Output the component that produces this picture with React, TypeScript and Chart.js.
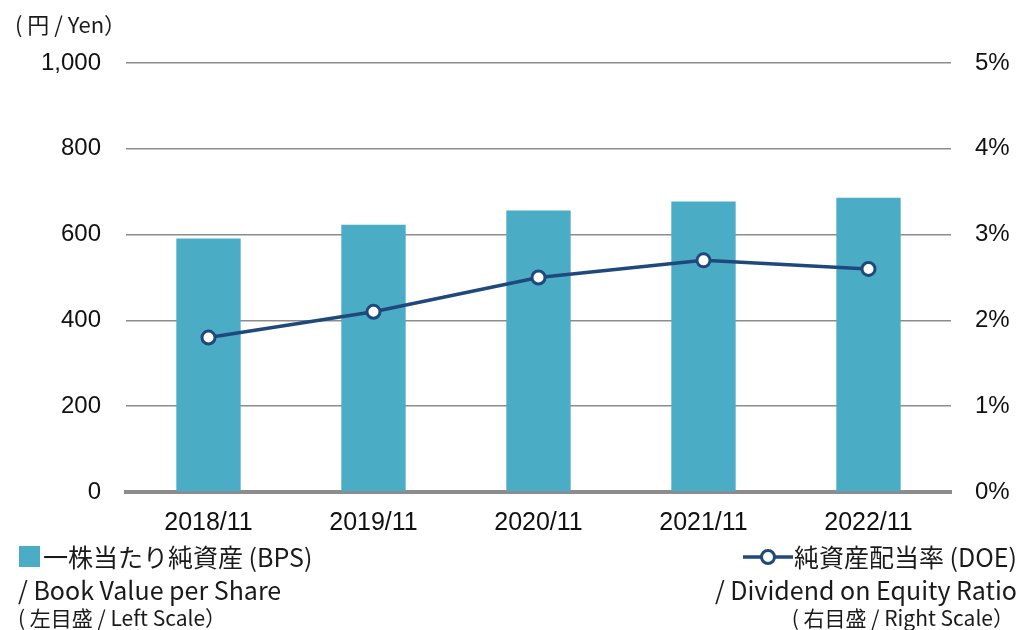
import React, { useEffect, useRef } from "react";
import { Chart, registerables } from "chart.js";

Chart.register(...registerables);

const categories = ["2018/11", "2019/11", "2020/11", "2021/11", "2022/11"];
const bpsValues = [591, 623, 656, 677, 686];
const doeValues = [1.8, 2.1, 2.5, 2.7, 2.6];
const leftAxis = { min: 0, max: 1000, step: 200 };
const rightAxis = { min: 0, max: 5, step: 1 };

const BAR_COLOR = "#4BACC6";
const LINE_COLOR = "#1F497D";
const GRID_COLOR = "#8C8C8C";
const TICK_FONT = "'Liberation Sans', Arial, sans-serif";
const LEGEND_FONT = "'Noto Sans CJK JP', 'Noto Sans', sans-serif";

export default function App() {
  const canvasRef = useRef<HTMLCanvasElement | null>(null);

  useEffect(() => {
    if (!canvasRef.current) return;
    const chart = new Chart(canvasRef.current, {
      type: "bar",
      data: {
        labels: categories,
        datasets: [
          {
            type: "line",
            label: "DOE",
            data: doeValues,
            yAxisID: "yRight",
            borderColor: LINE_COLOR,
            borderWidth: 3.5,
            pointRadius: 6.5,
            pointBorderWidth: 3,
            pointBackgroundColor: "#ffffff",
            pointBorderColor: LINE_COLOR,
            tension: 0,
            order: 0,
          } as any,
          {
            type: "bar",
            label: "BPS",
            data: bpsValues,
            yAxisID: "yLeft",
            backgroundColor: BAR_COLOR,
            borderWidth: 0,
            barPercentage: 0.39,
            categoryPercentage: 1,
            order: 1,
          },
        ],
      },
      options: {
        responsive: false,
        animation: false,
        layout: { padding: { top: 63, bottom: 93, left: 0, right: 0 } },
        plugins: { legend: { display: false }, tooltip: { enabled: false } },
        scales: {
          x: {
            grid: { display: false, drawTicks: false },
            border: { display: true, color: GRID_COLOR, width: 4 },
            ticks: {
              color: "#111",
              font: { family: TICK_FONT, size: 25 },
              padding: 16,
              maxRotation: 0,
            },
            afterFit: (s: any) => {
              s.height = 45;
            },
          },
          yLeft: {
            position: "left",
            min: leftAxis.min,
            max: leftAxis.max,
            grid: {
              color: GRID_COLOR,
              lineWidth: 1.6,
              drawTicks: false,
            },
            border: { display: false },
            ticks: {
              stepSize: leftAxis.step,
              color: "#111",
              font: { family: TICK_FONT, size: 24 },
              padding: 25,
              callback: (v: any) => Number(v).toLocaleString("en-US"),
            },
            afterFit: (s: any) => {
              s.width = 126;
            },
          },
          yRight: {
            position: "right",
            min: rightAxis.min,
            max: rightAxis.max,
            grid: { display: false, drawTicks: false },
            border: { display: false },
            ticks: {
              stepSize: rightAxis.step,
              color: "#111",
              font: { family: TICK_FONT, size: 24 },
              padding: 24,
              callback: (v: any) => `${v}%`,
            },
            afterFit: (s: any) => {
              s.width = 69;
            },
          },
        },
      },
    });
    return () => chart.destroy();
  }, []);

  const txt: React.CSSProperties = {
    position: "absolute",
    fontFamily: LEGEND_FONT,
    color: "#1a1a1a",
    whiteSpace: "nowrap",
    lineHeight: 1,
  };

  return (
    <div
      style={{
        position: "fixed",
        left: 0,
        top: 0,
        width: 1020,
        height: 630,
        background: "#ffffff",
        overflow: "hidden",
      }}
    >
      <canvas ref={canvasRef} width={1020} height={630} style={{ position: "absolute", left: 0, top: 0 }} />
      <div style={{ ...txt, left: 15, top: 12, fontSize: 22 }}>( 円 / Yen）</div>

      <div style={{ ...txt, left: 19, top: 544, fontSize: 25, display: "flex", alignItems: "center" }}>
        <span style={{ display: "inline-block", width: 21, height: 21, background: BAR_COLOR, marginRight: 3 }} />
        <span>一株当たり純資産 (BPS)</span>
      </div>
      <div style={{ ...txt, left: 18, top: 577, fontSize: 25 }}>/ Book Value per Share</div>
      <div style={{ ...txt, left: 18, top: 607, fontSize: 21 }}>( 左目盛 / Left Scale）</div>

      <div style={{ ...txt, right: 3, top: 544, fontSize: 25, display: "flex", alignItems: "center" }}>
        <svg width={50} height={22} style={{ marginRight: 1 }}>
          <line x1={0} y1={11} x2={50} y2={11} stroke={LINE_COLOR} strokeWidth={3.5} />
          <circle cx={25} cy={11} r={6.5} fill="#fff" stroke={LINE_COLOR} strokeWidth={3} />
        </svg>
        <span>純資産配当率 (DOE)</span>
      </div>
      <div style={{ ...txt, right: 3, top: 577, fontSize: 25 }}>/ Dividend on Equity Ratio</div>
      <div style={{ ...txt, right: 6, top: 607, fontSize: 21 }}>( 右目盛 / Right Scale）</div>
    </div>
  );
}
